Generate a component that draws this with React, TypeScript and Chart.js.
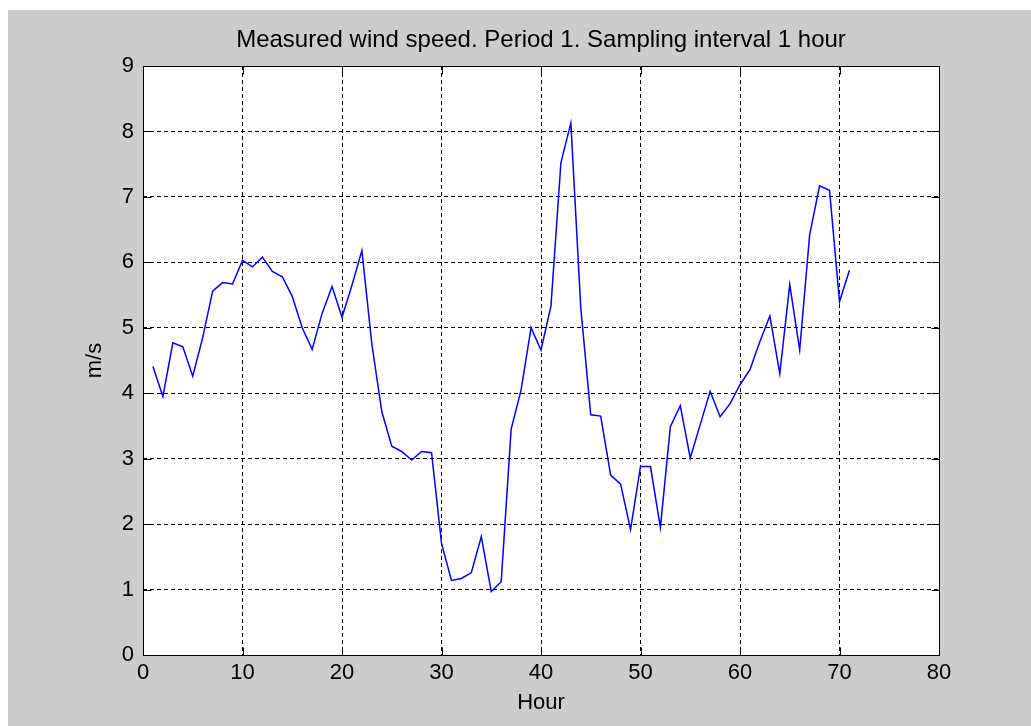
import React, { useEffect, useRef } from "react";
import { Chart, registerables } from "chart.js";

Chart.register(...registerables);

// Hourly wind speed samples (m/s), one per hour
const hours: number[] = [
  1, 2, 3, 4, 5, 6, 7, 8, 9, 10, 11, 12, 13, 14, 15, 16, 17, 18, 19, 20,
  21, 22, 23, 24, 25, 26, 27, 28, 29, 30, 31, 32, 33, 34, 35, 36, 37, 38, 39, 40,
  41, 42, 43, 44, 45, 46, 47, 48, 49, 50, 51, 52, 53, 54, 55, 56, 57, 58, 59, 60,
  61, 62, 63, 64, 65, 66, 67, 68, 69, 70, 71,
];
const windSpeed: number[] = [
  4.41, 3.95, 4.77, 4.71, 4.26, 4.85, 5.56, 5.69, 5.67, 6.03,
  5.93, 6.08, 5.86, 5.78, 5.48, 5.0, 4.67, 5.22, 5.63, 5.16,
  5.65, 6.18, 4.75, 3.72, 3.19, 3.11, 2.98, 3.11, 3.09, 1.71,
  1.14, 1.17, 1.26, 1.81, 0.97, 1.12, 3.45, 4.05, 5.0, 4.66,
  5.33, 7.52, 8.13, 5.3, 3.67, 3.65, 2.75, 2.61, 1.92, 2.88,
  2.88, 1.95, 3.49, 3.81, 3.01, 3.52, 4.03, 3.64, 3.84, 4.13,
  4.36, 4.79, 5.18, 4.3, 5.66, 4.66, 6.42, 7.17, 7.1, 5.4,
  5.88,
];
const xTicks: number[] = [0, 10, 20, 30, 40, 50, 60, 70, 80];
const yTicks: number[] = [0, 1, 2, 3, 4, 5, 6, 7, 8, 9];

const titleText = "Measured wind speed. Period 1. Sampling interval 1 hour";
const xLabel = "Hour";
const yLabel = "m/s";

const FONT = "'Liberation Sans', Arial, Helvetica, sans-serif";
const W = 1023;
const H = 716;

// Gray figure background with a white axes box
const backgroundPlugin = {
  id: "figureBackground",
  beforeDraw(chart: any) {
    const { ctx, chartArea } = chart;
    ctx.save();
    ctx.fillStyle = "#cccccc";
    ctx.fillRect(0, 0, chart.width, chart.height);
    ctx.fillStyle = "#ffffff";
    ctx.fillRect(
      chartArea.left,
      chartArea.top,
      chartArea.right - chartArea.left,
      chartArea.bottom - chartArea.top
    );
    ctx.restore();
  },
};

// Solid box around the axes, inward tick marks on all four sides,
// and the title centred over the axes box
const boxTicksPlugin = {
  id: "boxTicks",
  afterDraw(chart: any) {
    const { ctx, chartArea } = chart;
    const xs = chart.scales.x;
    const ys = chart.scales.y;
    const L = Math.round(chartArea.left) + 0.5;
    const R = Math.round(chartArea.right) + 0.5;
    const T = Math.round(chartArea.top) + 0.5;
    const B = Math.round(chartArea.bottom) + 0.5;
    const len = 8;
    ctx.save();
    ctx.strokeStyle = "#000000";
    ctx.lineWidth = 1;
    ctx.setLineDash([]);
    ctx.beginPath();
    ctx.rect(L, T, R - L, B - T);
    for (const v of xTicks) {
      const px = Math.round(xs.getPixelForValue(v)) + 0.5;
      ctx.moveTo(px, B);
      ctx.lineTo(px, B - len);
      ctx.moveTo(px, T);
      ctx.lineTo(px, T + len);
    }
    for (const v of yTicks) {
      const py = Math.round(ys.getPixelForValue(v)) + 0.5;
      ctx.moveTo(L, py);
      ctx.lineTo(L + len, py);
      ctx.moveTo(R, py);
      ctx.lineTo(R - len, py);
    }
    ctx.stroke();

    ctx.fillStyle = "#000000";
    ctx.font = `24px ${FONT}`;
    ctx.textAlign = "center";
    ctx.textBaseline = "middle";
    ctx.fillText(titleText, (chartArea.left + chartArea.right) / 2, 30);
    ctx.restore();
  },
};

export default function App() {
  const canvasRef = useRef<HTMLCanvasElement | null>(null);

  useEffect(() => {
    if (!canvasRef.current) return;
    const chart = new Chart(canvasRef.current, {
      type: "line",
      data: {
        datasets: [
          {
            data: hours.map((h, i) => ({ x: h, y: windSpeed[i] })),
            borderColor: "#0000ff",
            borderWidth: 1.5,
            pointRadius: 0,
            tension: 0,
            fill: false,
          },
        ],
      },
      options: {
        animation: false,
        responsive: false,
        devicePixelRatio: 1,
        layout: { padding: { left: 0, right: 92, top: 56, bottom: 0 } },
        plugins: {
          legend: { display: false },
          tooltip: { enabled: false },
          title: { display: false },
        },
        scales: {
          x: {
            type: "linear",
            min: 0,
            max: 80,
            afterBuildTicks(scale: any) {
              scale.ticks = xTicks.map((v) => ({ value: v }));
            },
            afterFit(scale: any) {
              scale.height = 71;
            },
            ticks: {
              color: "#000000",
              padding: 7,
              maxRotation: 0,
              autoSkip: false,
              font: { family: FONT, size: 22, lineHeight: 1 },
              callback: (v: any) => String(v),
            },
            grid: {
              color: "#000000",
              lineWidth: 1,
              drawTicks: false,
            },
            border: { display: false, dash: [4, 3] },
            title: {
              display: true,
              text: xLabel,
              color: "#000000",
              font: { family: FONT, size: 22, lineHeight: 1 },
              padding: { top: 0, bottom: 12 },
            },
          },
          y: {
            type: "linear",
            min: 0,
            max: 9,
            afterBuildTicks(scale: any) {
              scale.ticks = yTicks.map((v) => ({ value: v }));
            },
            afterFit(scale: any) {
              scale.width = 135;
            },
            ticks: {
              color: "#000000",
              padding: 9,
              autoSkip: false,
              font: { family: FONT, size: 22, lineHeight: 1 },
              callback: (v: any) => String(v),
            },
            grid: {
              color: "#000000",
              lineWidth: 1,
              drawTicks: false,
            },
            border: { display: false, dash: [4, 3] },
            title: {
              display: true,
              text: yLabel,
              color: "#000000",
              font: { family: FONT, size: 22, lineHeight: 1 },
              padding: { top: 76, bottom: 0 },
            },
          },
        },
      },
      plugins: [backgroundPlugin, boxTicksPlugin],
    } as any);
    return () => chart.destroy();
  }, []);

  return (
    <div style={{ position: "absolute", left: 8, top: 10, width: W, height: H }}>
      <canvas ref={canvasRef} width={W} height={H} style={{ display: "block", width: W, height: H }} />
    </div>
  );
}
